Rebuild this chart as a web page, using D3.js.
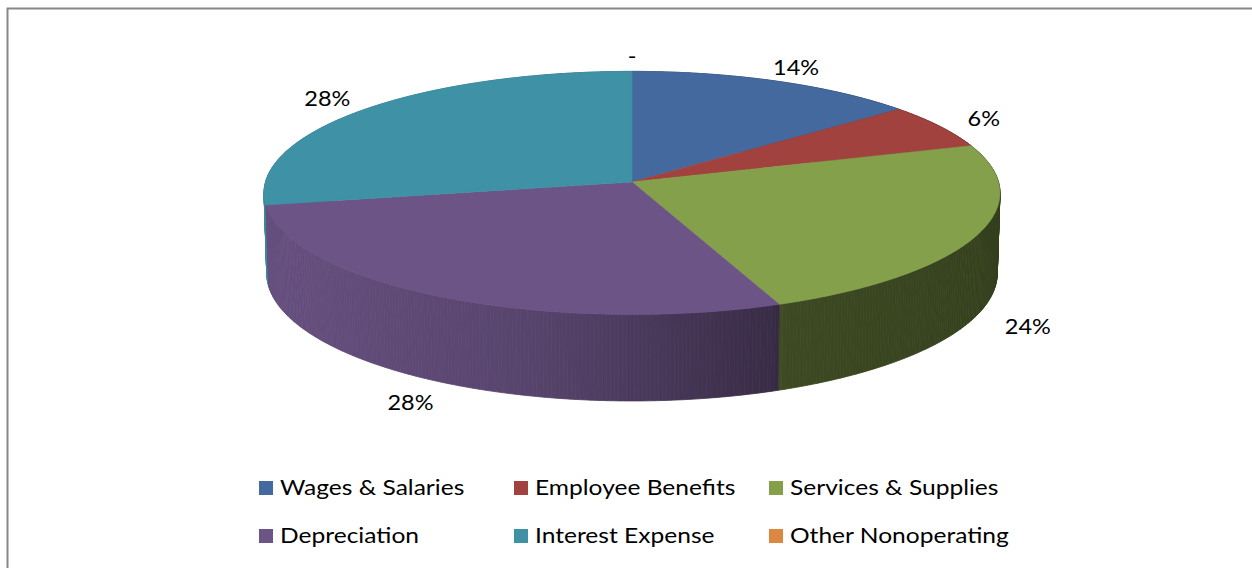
<!DOCTYPE html>
<html>
<head>
<meta charset="utf-8">
<script src="https://cdn.jsdelivr.net/npm/d3@7"></script>
<style>
  body { margin: 0; background: #fff; }
  svg { display: block; }
  text { font-family: Lato, "Open Sans", sans-serif; fill: #000; }
</style>
</head>
<body>
<div id="chart"></div>
<script>
// data
var categories = ["Wages & Salaries", "Employee Benefits", "Services & Supplies",
                  "Depreciation", "Interest Expense", "Other Nonoperating"];
var values = [14, 6, 24, 28, 28, 0];
var labels = ["14%", "6%", "24%", "28%", "28%", "-"];

var width = 1252, height = 568;

var color = d3.scaleOrdinal()
    .domain(categories)
    .range(["#44699f", "#a1423f", "#84a04a", "#6c5486", "#3f91a6", "#dd8640"]);

var svg = d3.select("#chart").append("svg")
    .attr("width", width)
    .attr("height", height);

// chart border (runs off the right and bottom edges)
svg.append("rect")
    .attr("x", 7.5).attr("y", 8.5)
    .attr("width", width + 20).attr("height", height + 20)
    .attr("fill", "none")
    .attr("stroke", "#878787")
    .attr("stroke-width", 2);

// simple perspective camera for the 3d pie
var cx = 632, cy = 182;
var D = 10.5, F = 3848, tilt = Math.asin(0.329);
var sn = Math.sin(tilt), cs = Math.cos(tilt);
var depthH = 0.232;

function project(theta, r, y) {
    var X = r * Math.sin(theta);
    var Z = -r * Math.cos(theta);
    var up = y * cs - Z * sn;
    var dist = D - (y * sn + Z * cs);
    return [cx + F * X / dist, cy - F * up / dist, dist];
}

// side shading gets darker towards the right
var shadeX = d3.scaleLinear()
    .domain([264, 540, 770, 785, 1000])
    .range([0.95, 0.8, 0.53, 0.46, 0.4])
    .clamp(true);

var pie = d3.pie().sort(null).value(function (d) { return d; });
var arcs = pie(values);

// side walls, cut in thin strips and painted back to front
var strips = [];
arcs.forEach(function (a, i) {
    if (a.endAngle - a.startAngle <= 0) return;
    var n = Math.max(2, Math.ceil((a.endAngle - a.startAngle) / 0.01));
    var step = d3.scaleLinear().domain([0, n]).range([a.startAngle, a.endAngle]);
    for (var k = 0; k < n; k++) {
        var t0 = step(k), t1 = step(k + 1), tm = (t0 + t1) / 2;
        var p = [project(t0, 1, 0), project(t1, 1, 0), project(t1, 1, -depthH), project(t0, 1, -depthH)];
        var mid = project(tm, 1, -depthH / 2);
        var shade = shadeX(mid[0]);
        var c = d3.rgb(color(categories[i]));
        var fill = d3.rgb(c.r * shade, c.g * shade, c.b * shade);
        strips.push({ pts: p, dist: mid[2], fill: fill.toString() });
    }
});
strips.sort(function (a, b) { return b.dist - a.dist; });

svg.append("g").selectAll("path")
    .data(strips)
    .enter().append("path")
    .attr("d", function (d) { return "M" + d.pts.map(function (p) { return p[0] + "," + p[1]; }).join("L") + "Z"; })
    .attr("fill", function (d) { return d.fill; })
    .attr("stroke", function (d) { return d.fill; })
    .attr("stroke-width", 0.8);

// top faces
svg.append("g").selectAll("path")
    .data(arcs.filter(function (a) { return a.endAngle > a.startAngle; }))
    .enter().append("path")
    .attr("d", function (a) {
        var n = Math.max(2, Math.ceil((a.endAngle - a.startAngle) / 0.01));
        var ang = d3.range(n + 1).map(d3.scaleLinear().domain([0, n]).range([a.startAngle, a.endAngle]));
        var pts = [project(0, 0, 0)].concat(ang.map(function (t) { return project(t, 1, 0); }));
        return "M" + pts.map(function (p) { return p[0] + "," + p[1]; }).join("L") + "Z";
    })
    .attr("fill", function (a) { return color(categories[a.index]); })
    .attr("stroke", function (a) { return color(categories[a.index]); })
    .attr("stroke-width", 0.6);

// data labels
svg.append("g").selectAll("text")
    .data(arcs)
    .enter().append("text")
    .attr("transform", function (a) {
        var mid = (a.startAngle + a.endAngle) / 2;
        var front = Math.cos(mid) < 0;
        var p = project(mid, 1.15, front ? -depthH : 0);
        return "translate(" + p[0] + "," + p[1] + ") scale(1.12,1)";
    })
    .attr("text-anchor", "middle")
    .attr("dy", "0.35em")
    .style("font-size", "21px")
    .text(function (a) { return labels[a.index]; });

// legend
var legX = d3.scalePoint().domain([0, 1, 2]).range([259, 769]);
var legY = d3.scalePoint().domain([0, 1]).range([488, 536]);

var leg = svg.append("g").selectAll("g")
    .data(categories)
    .enter().append("g")
    .attr("transform", function (d, i) { return "translate(" + legX(i % 3) + "," + legY(Math.floor(i / 3)) + ")"; });

leg.append("rect")
    .attr("x", 0).attr("y", -7)
    .attr("width", 14).attr("height", 14)
    .attr("fill", function (d) { return color(d); });

leg.append("text")
    .attr("transform", "translate(21,0) scale(1.17,1)")
    .attr("dy", "0.35em")
    .style("font-size", "21px")
    .text(function (d) { return d; });
</script>
</body>
</html>
